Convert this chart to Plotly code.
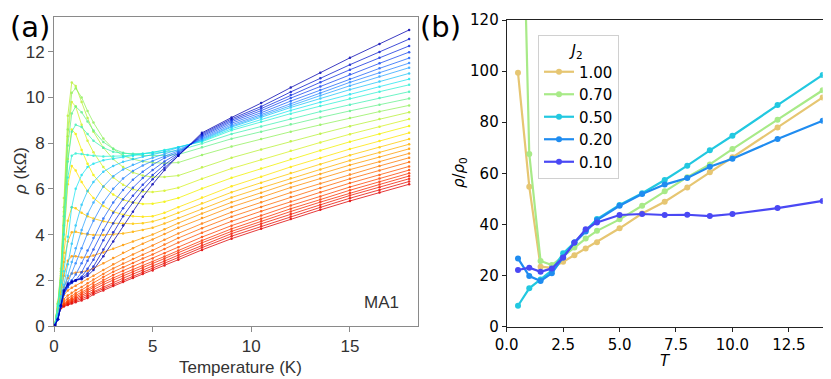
import plotly.graph_objects as go

# ---------------- panel (a): rho vs temperature, sample MA1 ----------------
temps_a = [0.05, 0.2, 0.35, 0.5, 0.7, 0.9, 1.1, 1.4, 1.7, 2.0, 2.5, 3.0, 3.5, 4.0, 4.5,
           5.0, 5.6, 6.3, 7.5, 9.0, 10.5, 12.0, 13.5, 15.0, 16.5, 18.0]

red_curves = [
    [0.05, 0.45, 0.78, 0.85, 0.92, 0.98, 1.04, 1.12, 1.22, 1.38, 1.55, 1.75, 1.92, 2.1, 2.27, 2.43, 2.65, 2.9, 3.33, 3.82, 4.25, 4.68, 5.08, 5.47, 5.84, 6.2],
    [0.06, 0.48, 0.8, 0.88, 0.96, 1.03, 1.1, 1.19, 1.3, 1.45, 1.63, 1.83, 2.0, 2.18, 2.35, 2.52, 2.74, 3.0, 3.43, 3.93, 4.36, 4.79, 5.19, 5.59, 5.95, 6.32],
    [0.06, 0.5, 0.82, 0.9, 0.99, 1.07, 1.15, 1.25, 1.37, 1.52, 1.72, 1.92, 2.09, 2.27, 2.44, 2.61, 2.84, 3.1, 3.53, 4.04, 4.47, 4.9, 5.3, 5.71, 6.07, 6.44],
    [0.07, 0.52, 0.84, 0.93, 1.03, 1.12, 1.21, 1.32, 1.45, 1.6, 1.81, 2.01, 2.19, 2.37, 2.54, 2.71, 2.94, 3.2, 3.64, 4.14, 4.58, 5.01, 5.42, 5.82, 6.19, 6.56],
    [0.08, 0.55, 0.86, 0.96, 1.07, 1.17, 1.27, 1.4, 1.54, 1.69, 1.91, 2.11, 2.29, 2.47, 2.64, 2.81, 3.04, 3.3, 3.74, 4.25, 4.69, 5.13, 5.53, 5.94, 6.31, 6.68],
    [0.09, 0.58, 0.9, 1.0, 1.12, 1.23, 1.34, 1.48, 1.63, 1.79, 2.02, 2.23, 2.42, 2.6, 2.78, 2.95, 3.18, 3.45, 3.89, 4.39, 4.83, 5.27, 5.67, 6.08, 6.45, 6.82],
]
orange_curves = [
    [0.08, 0.6, 0.95, 1.08, 1.2, 1.32, 1.43, 1.58, 1.74, 1.9, 2.14, 2.37, 2.57, 2.76, 2.95, 3.13, 3.37, 3.65, 4.08, 4.58, 5.02, 5.45, 5.85, 6.25, 6.61, 6.98],
    [0.08, 0.62, 1.0, 1.18, 1.33, 1.45, 1.56, 1.71, 1.87, 2.03, 2.28, 2.52, 2.73, 2.93, 3.12, 3.31, 3.56, 3.85, 4.28, 4.78, 5.21, 5.64, 6.04, 6.44, 6.8, 7.17],
    [0.08, 0.65, 1.08, 1.35, 1.55, 1.67, 1.76, 1.9, 2.05, 2.2, 2.45, 2.7, 2.92, 3.13, 3.33, 3.52, 3.77, 4.05, 4.48, 4.98, 5.41, 5.84, 6.23, 6.63, 7.0, 7.36],
    [0.09, 0.7, 1.2, 1.7, 2.1, 2.3, 2.33, 2.35, 2.42, 2.52, 2.74, 2.97, 3.2, 3.4, 3.6, 3.78, 4.02, 4.3, 4.72, 5.21, 5.63, 6.06, 6.45, 6.84, 7.19, 7.55],
    [0.1, 0.75, 1.35, 2.2, 2.85, 3.05, 3.05, 3.0, 3.02, 3.08, 3.22, 3.38, 3.54, 3.7, 3.85, 4.0, 4.23, 4.5, 4.92, 5.41, 5.83, 6.26, 6.65, 7.04, 7.39, 7.75],
    [0.1, 0.8, 1.5, 2.8, 3.7, 4.1, 4.12, 4.05, 4.0, 3.98, 3.98, 4.0, 4.05, 4.12, 4.2, 4.3, 4.48, 4.72, 5.14, 5.62, 6.04, 6.46, 6.85, 7.24, 7.59, 7.95],
]
yellow_curves = [
    [0.1, 0.85, 1.7, 3.2, 4.6, 5.2, 5.15, 4.95, 4.8, 4.7, 4.58, 4.5, 4.47, 4.47, 4.5, 4.57, 4.72, 4.95, 5.37, 5.85, 6.27, 6.69, 7.08, 7.47, 7.82, 8.18],
    [0.1, 0.9, 1.9, 3.8, 6.2, 7.0, 6.8, 6.3, 5.9, 5.6, 5.25, 5.0, 4.87, 4.8, 4.78, 4.8, 4.95, 5.2, 5.62, 6.11, 6.53, 6.96, 7.35, 7.74, 8.09, 8.45],
    [0.1, 0.95, 2.1, 4.4, 7.3, 8.6, 8.4, 7.7, 7.1, 6.6, 6.1, 5.75, 5.52, 5.4, 5.34, 5.35, 5.44, 5.6, 6.01, 6.48, 6.89, 7.3, 7.68, 8.06, 8.4, 8.75],
    [0.1, 1.0, 2.3, 5.0, 8.3, 9.8, 9.6, 8.8, 8.1, 7.6, 6.95, 6.5, 6.18, 5.98, 5.88, 5.86, 5.92, 6.05, 6.44, 6.89, 7.28, 7.67, 8.03, 8.39, 8.72, 9.05],
]
green_curves = [
    [0.1, 1.05, 2.5, 5.6, 9.2, 10.65, 10.5, 9.8, 9.1, 8.5, 7.8, 7.3, 6.95, 6.72, 6.58, 6.52, 6.52, 6.58, 6.94, 7.36, 7.72, 8.08, 8.41, 8.74, 9.05, 9.35],
    [0.1, 1.0, 2.4, 5.2, 8.6, 10.2, 10.4, 10.0, 9.4, 8.9, 8.2, 7.75, 7.45, 7.3, 7.2, 7.15, 7.12, 7.15, 7.48, 7.85, 8.18, 8.5, 8.8, 9.1, 9.38, 9.65],
    [0.1, 0.95, 2.2, 4.8, 7.9, 9.3, 9.6, 9.35, 8.95, 8.55, 8.05, 7.75, 7.58, 7.5, 7.46, 7.45, 7.46, 7.5, 7.82, 8.19, 8.5, 8.82, 9.12, 9.41, 9.68, 9.95],
    [0.1, 0.9, 2.0, 4.4, 7.2, 8.5, 8.8, 8.7, 8.4, 8.1, 7.8, 7.62, 7.55, 7.53, 7.54, 7.56, 7.6, 7.68, 7.98, 8.4, 8.73, 9.07, 9.38, 9.68, 9.97, 10.25],
]
cyan_curves = [
    [0.1, 0.85, 1.9, 4.0, 6.5, 7.45, 7.55, 7.52, 7.48, 7.45, 7.42, 7.42, 7.44, 7.48, 7.53, 7.6, 7.7, 7.82, 8.06, 8.56, 8.94, 9.29, 9.62, 9.95, 10.25, 10.55],
    [0.05, 0.5, 1.3, 2.4, 3.9, 5.2, 6.0, 6.6, 6.95, 7.1, 7.25, 7.32, 7.38, 7.44, 7.5, 7.58, 7.68, 7.82, 8.09, 8.63, 9.04, 9.43, 9.79, 10.14, 10.47, 10.8],
    [0.05, 0.45, 1.1, 1.8, 2.7, 3.6, 4.4, 5.3, 5.9, 6.3, 6.75, 7.0, 7.18, 7.3, 7.4, 7.5, 7.62, 7.8, 8.12, 8.7, 9.13, 9.56, 9.95, 10.34, 10.69, 11.05],
    [0.05, 0.4, 1.0, 1.6, 2.2, 2.8, 3.4, 4.2, 4.9, 5.4, 6.1, 6.55, 6.85, 7.05, 7.22, 7.36, 7.52, 7.72, 8.16, 8.74, 9.19, 9.65, 10.08, 10.51, 10.91, 11.3],
    [0.05, 0.35, 0.9, 1.45, 1.9, 2.3, 2.75, 3.4, 4.05, 4.6, 5.4, 6.0, 6.45, 6.78, 7.02, 7.22, 7.43, 7.66, 8.2, 8.8, 9.25, 9.73, 10.19, 10.66, 11.08, 11.5],
]
blue_curves = [
    [0.04, 0.3, 0.85, 1.4, 1.75, 2.0, 2.25, 2.75, 3.3, 3.85, 4.7, 5.4, 5.95, 6.4, 6.75, 7.05, 7.35, 7.6, 8.25, 8.87, 9.33, 9.84, 10.32, 10.81, 11.27, 11.72],
    [0.04, 0.3, 0.85, 1.4, 1.7, 1.88, 2.0, 2.35, 2.85, 3.35, 4.2, 4.95, 5.55, 6.05, 6.47, 6.82, 7.2, 7.55, 8.3, 8.94, 9.42, 9.97, 10.48, 11.01, 11.49, 11.98],
    [0.04, 0.3, 0.85, 1.45, 1.75, 1.9, 1.98, 2.15, 2.5, 2.9, 3.75, 4.5, 5.15, 5.7, 6.18, 6.6, 7.05, 7.5, 8.35, 9.0, 9.51, 10.1, 10.66, 11.21, 11.73, 12.25],
    [0.04, 0.3, 0.9, 1.5, 1.8, 1.92, 2.0, 2.1, 2.3, 2.6, 3.35, 4.1, 4.8, 5.4, 5.95, 6.42, 6.92, 7.45, 8.4, 9.06, 9.6, 10.24, 10.84, 11.43, 11.99, 12.55],
    [0.04, 0.3, 0.9, 1.55, 1.85, 1.95, 2.0, 2.05, 2.2, 2.45, 3.05, 3.7, 4.4, 5.0, 5.65, 6.2, 6.82, 7.45, 8.45, 9.12, 9.75, 10.43, 11.08, 11.73, 12.34, 12.95],
]

# rainbow, red (bottom at high T) -> dark blue (top)
curve_colors = ['#e00000', '#e80c00', '#f01800', '#f62600', '#fb3400', '#ff4200',
                '#ff5400', '#ff6600', '#ff7800', '#ff8a00', '#ff9c00', '#ffb000',
                '#ffc800', '#ffe400', '#f2f200', '#d6f224',
                '#b8f038', '#92f05c', '#66f08c', '#42f0b4',
                '#30f0d4', '#20e4f0', '#22c6f8', '#2ea6ff', '#2a86ff',
                '#2066f8', '#1848ee', '#1030e0', '#0818cc', '#0000b0']

# ---------------- panel (b): rho/rho0 vs T for several J2 ----------------
temps_b = [0.5, 1.0, 1.5, 2.0, 2.5, 3.0, 3.5, 4.0, 5.0, 6.0, 7.0, 8.0, 9.0, 10.0, 12.0, 14.0]
j2_labels = ['1.00', '0.70', '0.50', '0.20', '0.10']
rho_j100 = [99.4, 54.8, 23.5, 23.0, 25.4, 28.0, 30.6, 33.0, 38.5, 44.3, 48.9, 54.5, 60.4, 66.3, 77.9, 89.7]
rho_j070 = [250.0, 67.6, 25.7, 24.1, 27.5, 31.0, 34.5, 37.5, 42.0, 47.3, 53.0, 58.5, 63.5, 69.5, 81.0, 92.5]
rho_j050 = [8.2, 15.0, 18.5, 22.0, 28.7, 32.9, 37.6, 42.1, 47.6, 52.2, 57.4, 63.0, 69.0, 74.7, 86.7, 98.5]
rho_j020 = [26.7, 19.8, 17.9, 20.9, 27.1, 32.9, 37.2, 41.7, 47.3, 51.9, 55.6, 58.2, 62.6, 65.7, 73.4, 80.6]
rho_j010 = [22.2, 23.1, 21.5, 22.8, 27.1, 32.9, 38.1, 40.8, 43.7, 44.1, 43.7, 43.8, 43.3, 44.1, 46.4, 49.2]
j2_colors = ['#e6c672', '#a8ea88', '#22c8e0', '#1f8cf0', '#4a48f4']

# the page puts the plot 8px in from the top-left corner, so the figure is 8px smaller
W, H = 823, 371

fig = go.Figure()

all_curves = red_curves + orange_curves + yellow_curves + green_curves + cyan_curves + blue_curves
for rho, col in zip(all_curves, curve_colors):
    fig.add_trace(go.Scatter(
        x=temps_a, y=rho, mode='lines+markers',
        line=dict(color=col, width=0.9),
        marker=dict(color=col, size=2.5),
        opacity=0.85, showlegend=False,
        xaxis='x', yaxis='y'
    ))

for lab, rho, col in zip(j2_labels, [rho_j100, rho_j070, rho_j050, rho_j020, rho_j010], j2_colors):
    fig.add_trace(go.Scatter(
        x=temps_b, y=rho, name=lab, mode='lines+markers',
        line=dict(color=col, width=2.2),
        marker=dict(color=col, size=6),
        xaxis='x2', yaxis='y2'
    ))

grey = '#8a8a8a'
font_a = dict(family='Liberation Sans', size=17, color='#333333')
font_b = dict(family='DejaVu Sans', size=15, color='black')

fig.update_layout(
    width=W, height=H,
    margin=dict(l=0, r=0, t=0, b=0),
    paper_bgcolor='white', plot_bgcolor='white',
    xaxis=dict(domain=[46/W, 410/W], range=[0, 18.45], dtick=5, automargin=False,
               showline=True, mirror=True, linecolor=grey, linewidth=1,
               ticks='outside', ticklen=5, tickcolor=grey,
               showgrid=False, zeroline=False, tickfont=font_a),
    yaxis=dict(domain=[1 - 318/H, 1 - 8.7/H], range=[0, 13.53], dtick=2, automargin=False,
               showline=True, mirror=True, linecolor=grey, linewidth=1,
               ticks='outside', ticklen=5, tickcolor=grey,
               showgrid=False, zeroline=False, tickfont=font_a),
    xaxis2=dict(domain=[498.7/W, 814.7/W], range=[0, 14], dtick=2.5, tickformat='.1f',
                automargin=False, anchor='y2',
                showline=True, mirror=True, linecolor='#222', linewidth=1,
                ticks='outside', ticklen=4, tickcolor='#222',
                showgrid=False, zeroline=False, tickfont=font_b),
    yaxis2=dict(domain=[1 - 318.7/H, 1 - 12/H], range=[0, 120], dtick=20,
                automargin=False, anchor='x2',
                showline=True, mirror=True, linecolor='#222', linewidth=1,
                ticks='outside', ticklen=4, tickcolor='#222',
                showgrid=False, zeroline=False, tickfont=font_b),
    legend=dict(x=530/W, y=1 - 27/H, xanchor='left', yanchor='top',
                bgcolor='rgba(255,255,255,0.8)', bordercolor='#d0d0d0', borderwidth=1,
                font=font_b, title=dict(text='<i>J</i><sub>2</sub>', side='top center', font=font_b)),
)

annotations = [
    dict(text='(a)', x=0, y=1.0, xref='paper', yref='paper', xanchor='left', yanchor='top',
         showarrow=False, font=dict(family='DejaVu Sans', size=29, color='black')),
    dict(text='(b)', x=410/W, y=1.0, xref='paper', yref='paper', xanchor='left', yanchor='top',
         showarrow=False, font=dict(family='DejaVu Sans', size=29, color='black')),
    dict(text='Temperature (K)', x=232/W, y=1 - 359/H, xref='paper', yref='paper',
         xanchor='center', yanchor='middle', showarrow=False, font=font_a),
    dict(text='<i>ρ</i> (kΩ)', x=12/W, y=1 - 163/H, xref='paper', yref='paper',
         xanchor='center', yanchor='middle', textangle=-90, showarrow=False, font=font_a),
    dict(text='MA1', x=16.6, y=1.05, xref='x', yref='y', xanchor='center', yanchor='middle',
         showarrow=False, font=font_a),
    dict(text='<i>T</i>', x=657/W, y=1 - 353/H, xref='paper', yref='paper',
         xanchor='center', yanchor='middle', showarrow=False, font=font_b),
    dict(text='<i>ρ</i>/<i>ρ</i><sub>0</sub>', x=451/W, y=1 - 165/H, xref='paper', yref='paper',
         xanchor='center', yanchor='middle', textangle=-90, showarrow=False, font=font_b),
]
fig.update_layout(annotations=annotations)

fig.write_html("out.html")
